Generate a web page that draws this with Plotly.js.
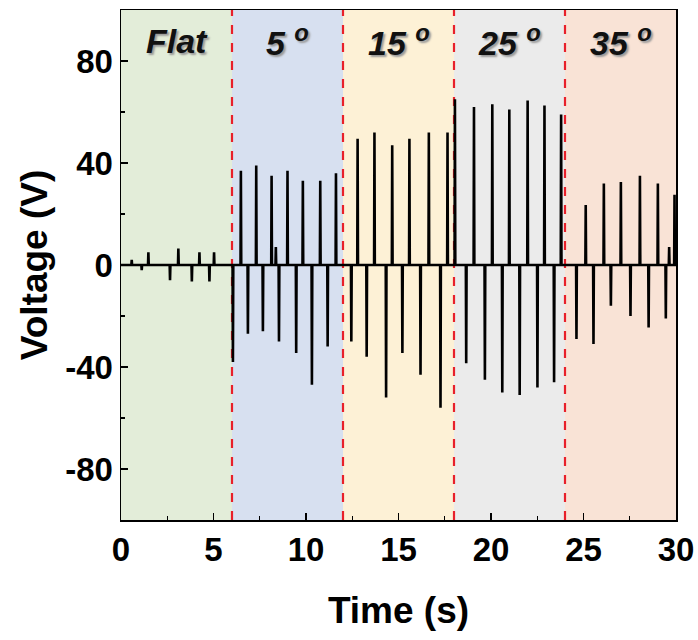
<!DOCTYPE html>
<html>
<head>
<meta charset="utf-8">
<script src="https://cdn.plot.ly/plotly-3.0.1.min.js"></script>
<style>html,body{margin:0;padding:0;background:#fff;}#chart{width:698px;height:640px;}</style>
</head>
<body>
<div id="chart"></div>
<script>
// Segment definitions
const segStarts = [0, 6, 12, 18, 24];
const segEnds = [6, 12, 18, 24, 30];
const segLabels = ['Flat', '5 <sup>o</sup>', '15 <sup>o</sup>', '25 <sup>o</sup>', '35 <sup>o</sup>'];
const segColors = ['#e3edd9', '#d7e0f0', '#fdf1d6', '#ebebeb', '#f9e3d6'];
const boundaries = [6, 12, 18, 24];

// Positive spikes (time s, voltage V)
const posTimes = [0.58, 1.48, 3.10, 4.24, 5.03,
  6.48, 7.31, 8.14, 8.37, 9.00, 9.83, 10.77, 11.62,
  12.79, 13.70, 14.66, 15.59, 16.64, 17.65,
  18.05, 19.08, 20.07, 20.99, 21.98, 22.89, 23.79,
  25.12, 26.10, 27.02, 28.05, 29.02, 29.63, 29.92];
const posVolts = [2, 5, 6.5, 5, 5,
  37, 39, 35, 7, 37, 33, 33, 36,
  49.5, 52, 47, 49.5, 52, 52,
  65, 62, 63, 61, 64.5, 62.5, 59,
  23.5, 32, 32.5, 35, 32, 7, 27.5];

// Negative spikes
const negTimes = [1.12, 2.65, 3.83, 4.78,
  6.05, 6.86, 7.67, 8.54, 9.47, 10.32, 11.17,
  12.45, 13.28, 14.33, 15.21, 16.19, 17.27,
  18.66, 19.67, 20.61, 21.55, 22.51, 23.41,
  24.62, 25.54, 26.48, 27.54, 28.52, 29.45];
const negVolts = [-2, -6, -6.5, -6.5,
  -38, -27, -26, -30, -34.5, -47, -32,
  -30, -36, -52, -34.5, -43, -56,
  -38.5, -45, -50, -51, -48, -46,
  -29, -31, -16, -20, -24.5, -21];

// Axis ticks
const xTickVals = [0, 5, 10, 15, 20, 25, 30];
const xTickText = ['0', '5', '10', '15', '20', '25', '30'];
const yTickVals = [-80, -40, 0, 40, 80];
const yTickText = ['-80', '-40', '0', '40', '80'];

// Build the signal trace from spike lists
const events = [];
posTimes.forEach((t, i) => events.push([t, posVolts[i]]));
negTimes.forEach((t, i) => events.push([t, negVolts[i]]));
events.sort((a, b) => a[0] - b[0]);
const d = 0.02;
const xs = [0], ys = [0];
events.forEach(([t, v]) => { xs.push(t - d, t, t + d); ys.push(0, v, 0); });
xs.push(30); ys.push(0);

const shapes = [];
segStarts.forEach((s, i) => {
  shapes.push({type: 'rect', xref: 'x', yref: 'paper', x0: s, x1: segEnds[i], y0: 0, y1: 1,
    fillcolor: segColors[i], line: {width: 0}, layer: 'below'});
});
boundaries.forEach(b => {
  shapes.push({type: 'line', xref: 'x', yref: 'paper', x0: b, x1: b, y0: 0, y1: 1,
    line: {color: '#e8202a', width: 2.2, dash: 'dash'}, layer: 'below'});
});

const annotations = segLabels.map((lab, i) => ({
  x: (segStarts[i] + segEnds[i]) / 2, y: 88, xref: 'x', yref: 'y',
  text: lab, showarrow: false, xanchor: 'center', yanchor: 'middle',
  font: {family: 'Liberation Sans, Arial, sans-serif', size: 34, color: '#111', weight: 'bold', style: 'italic',
    shadow: '2px 2px 2px #999'}
}));

const font = 'Liberation Sans, Arial, sans-serif';
const layout = {
  width: 698, height: 640,
  margin: {l: 121, r: 22, t: 10, b: 120},
  paper_bgcolor: '#fff', plot_bgcolor: '#fff',
  showlegend: false,
  shapes: shapes,
  annotations: annotations,
  xaxis: {
    range: [0, 30], tickvals: xTickVals, ticktext: xTickText,
    showgrid: false, zeroline: false,
    showline: true, mirror: true, linecolor: '#000', linewidth: 1.5,
    ticks: 'inside', ticklen: 7, tickwidth: 1.5, tickcolor: '#000',
    minor: {ticks: 'inside', dtick: 2.5, tick0: 0, ticklen: 4, tickwidth: 1.2, tickcolor: '#000', showgrid: false},
    tickfont: {family: font, size: 33, color: '#000', weight: 'bold'},
    title: {text: 'Time (s)', font: {family: font, size: 37, color: '#000', weight: 'bold'}, standoff: 30}
  },
  yaxis: {
    range: [-100, 100], tickvals: yTickVals, ticktext: yTickText,
    showgrid: false, zeroline: false,
    showline: true, mirror: true, linecolor: '#000', linewidth: 1.5,
    ticks: 'inside', ticklen: 7, tickwidth: 1.5, tickcolor: '#000',
    minor: {ticks: 'inside', dtick: 20, tick0: 0, ticklen: 4, tickwidth: 1.2, tickcolor: '#000', showgrid: false},
    tickfont: {family: font, size: 33, color: '#000', weight: 'bold'},
    title: {text: 'Voltage (V)', font: {family: font, size: 37, color: '#000', weight: 'bold'}, standoff: 6}
  }
};

Plotly.newPlot('chart', [{
  x: xs, y: ys, type: 'scatter', mode: 'lines',
  line: {color: '#000', width: 2.6}, hoverinfo: 'skip'
}], layout, {displayModeBar: false, staticPlot: true});
</script>
</body>
</html>
